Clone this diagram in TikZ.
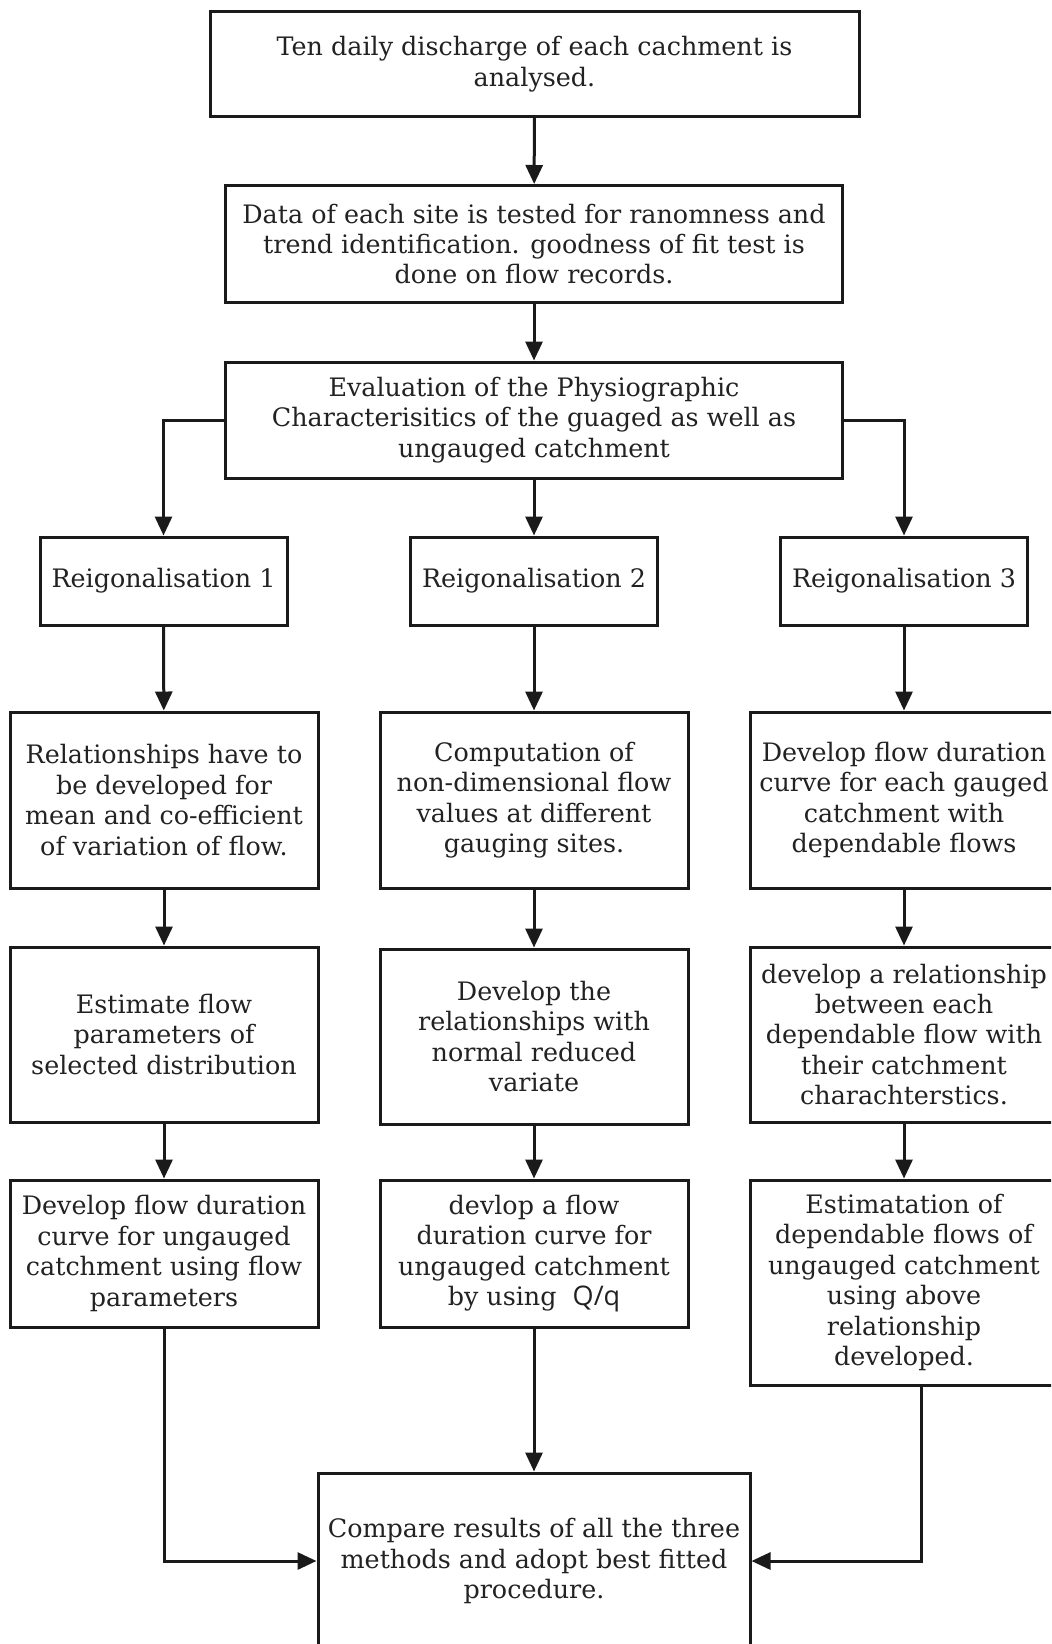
\documentclass[tikz,border=0pt]{standalone}
\usepackage{fontspec}
\setmainfont{DejaVu Serif}
\newfontfamily\qfont{Open Sans}
\usetikzlibrary{arrows.meta}
\definecolor{inkline}{HTML}{1A1A1A}
\definecolor{inktext}{HTML}{222222}
\begin{document}
\begin{tikzpicture}[x=0.5pt,y=-0.5pt,
  box/.style={draw=inkline,line width=1.5pt,inner sep=0pt,align=center,
    text=inktext,font=\fontsize{12.7}{15.2}\selectfont},
  link/.style={draw=inkline,line width=1.5pt,-{Triangle[length=9.5pt,width=8.5pt]}}]
  \clip (0,0) rectangle (1051,1644);
  \fill[white] (0,0) rectangle (1051,1644);
  \node[box,minimum width=649pt/2,minimum height=105pt/2] (ten) at (534.5,64)
    {Ten daily discharge of each cachment is\\analysed.};
  \node[box,minimum width=617pt/2,minimum height=117pt/2] (data) at (534,244)
    {Data of each site is tested for ranomness and\\trend identification. goodness of fit test is\\done on flow records.};
  \node[box,minimum width=617pt/2,minimum height=116pt/2] (phys) at (534,420)
    {Evaluation of the Physiographic\\Characterisitics of the guaged as well as\\ungauged catchment};
  \node[box,minimum width=247pt/2,minimum height=88pt/2] (regA) at (163.5,581) {Reigonalisation 1};
  \node[box,minimum width=247pt/2,minimum height=88pt/2] (regB) at (534,581) {Reigonalisation 2};
  \node[box,minimum width=247pt/2,minimum height=88pt/2] (regC) at (904,581) {Reigonalisation 3};
  \node[box,minimum width=308pt/2,minimum height=176pt/2] (relA) at (164,800)
    {Relationships have to\\be developed for\\mean and co-efficient\\of variation of flow.};
  \node[box,minimum width=308pt/2,minimum height=176pt/2] (relB) at (534,800)
    {Computation of\\non-dimensional flow\\values at different\\gauging sites.};
  \node[box,minimum width=308pt/2,minimum height=176pt/2] (relC) at (904,800)
    {Develop flow duration\\curve for each gauged\\catchment with\\dependable flows};
  \node[box,minimum width=308pt/2,minimum height=175pt/2] (estA) at (164,1034.5)
    {Estimate flow\\parameters of\\selected distribution};
  \node[box,minimum width=308pt/2,minimum height=175pt/2] (estB) at (534,1036.5)
    {Develop the\\relationships with\\normal reduced\\variate};
  \node[box,minimum width=308pt/2,minimum height=175pt/2] (estC) at (904,1034.5)
    {develop a relationship\\between each\\dependable flow with\\their catchment\\charachterstics.};
  \node[box,minimum width=308pt/2,minimum height=147pt/2] (fdcA) at (164,1253.5)
    {Develop flow duration\\curve for ungauged\\catchment using flow\\parameters};
  \node[box,minimum width=308pt/2,minimum height=147pt/2] (fdcB) at (534,1253.5)
    {devlop a flow\\duration curve for\\ungauged catchment\\by using\ \ {\qfont\fontsize{13.5}{15.2}\selectfont Q/q}};
  \node[box,minimum width=308pt/2,minimum height=205pt/2] (fdcC) at (904,1282.5)
    {Estimatation of\\dependable flows of\\ungauged catchment\\using above\\relationship\\developed.};
  \node[box,minimum width=432pt/2,minimum height=176pt/2] (comp) at (534,1561)
    {Compare results of all the three\\methods and adopt best fitted\\procedure.};
  \draw[link] (ten) -- (data);
  \draw[link] (data) -- (phys);
  \draw[link] (phys) -- (regB);
  \draw[link] (phys.west) -| (regA.north);
  \draw[link] (phys.east) -| (regC.north);
  \draw[link] (regA) -- (relA);
  \draw[link] (regB) -- (relB);
  \draw[link] (regC) -- (relC);
  \draw[link] (relA) -- (estA);
  \draw[link] (relB) -- (estB);
  \draw[link] (relC) -- (estC);
  \draw[link] (estA) -- (fdcA);
  \draw[link] (estB) -- (fdcB);
  \draw[link] (estC) -- (fdcC);
  \draw[link] (fdcB) -- (comp);
  \draw[link] (fdcA.south) |- (comp.west);
  \draw[link] ([xshift=8.5pt]fdcC.south) |- (comp.east);
\end{tikzpicture}
\end{document}
